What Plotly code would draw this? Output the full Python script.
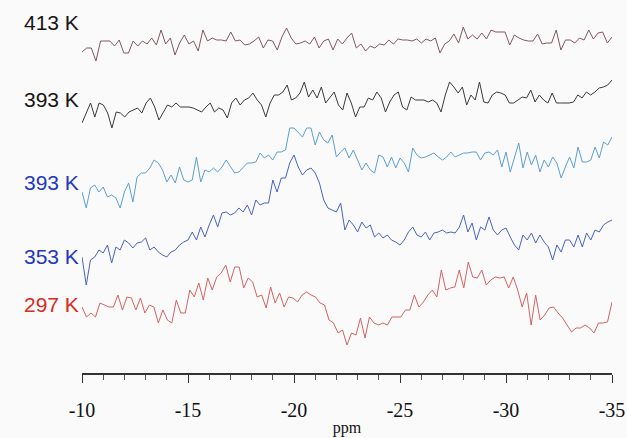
import numpy as np
import plotly.graph_objects as go

# Spectra (intensity, arbitrary units), ppm from -10 to -35
s413 = [10,14,14,1,21,21,21,16,22,9,
        9,21,16,21,18,24,17,32,18,24,
        7,19,27,18,21,11,32,21,24,22,
        22,21,30,21,22,17,18,21,25,14,
        22,21,12,25,34,24,18,19,21,18,
        25,14,21,23,12,23,18,24,29,14,
        18,11,16,14,18,17,22,18,23,22,
        22,21,23,19,23,21,24,9,18,21,
        28,19,35,23,27,23,29,23,32,30,
        30,30,17,27,24,22,21,21,28,18,
        19,19,32,12,22,22,19,24,22,32,
        23,29,30,19,25]

s393_black = [12,22,32,18,32,30,22,7,23,22,
              18,23,25,27,22,32,37,28,15,23,
              30,28,32,28,28,28,27,25,23,28,
              32,23,27,25,17,32,37,30,35,37,
              42,35,30,18,32,40,40,43,50,35,
              37,42,53,38,45,37,48,32,37,43,
              30,25,42,32,18,28,28,37,35,43,
              37,23,33,40,43,28,25,38,35,35,
              35,33,35,32,23,40,53,48,42,48,
              30,40,35,53,33,32,40,43,42,40,
              32,32,35,38,37,45,33,40,35,32,
              42,32,32,32,32,33,40,37,43,40,
              43,47,48,50,55]

s393_blue = [18,2,22,25,18,23,13,15,12,2,
             18,27,8,33,37,37,42,50,47,40,
             28,35,27,43,30,28,30,53,28,40,
             38,42,38,43,50,43,37,38,42,47,
             47,48,57,52,55,50,58,58,60,82,
             82,77,73,82,82,65,78,70,67,75,
             53,58,62,52,60,50,40,47,40,37,
             55,53,43,53,42,52,47,38,62,55,
             52,53,55,57,53,50,53,58,53,55,
             57,57,58,58,50,57,58,55,60,43,
             58,38,52,67,42,58,45,55,38,50,
             43,53,47,32,43,53,42,63,48,48,
             50,63,52,68,65,73]

s353 = [33,5,30,33,40,37,45,27,43,40,
        50,47,42,47,48,52,40,43,38,35,
        33,38,40,45,48,50,58,50,63,53,
        65,75,63,77,78,75,77,82,78,85,
        75,90,85,87,87,110,98,112,112,127,
        135,123,115,120,122,117,107,90,82,80,
        78,87,60,70,65,58,68,62,65,53,
        57,52,55,50,48,45,50,58,63,55,
        53,58,50,57,58,60,57,58,57,63,
        75,58,67,50,63,60,73,60,55,60,
        62,53,45,40,55,50,57,47,55,48,
        43,30,45,38,50,50,43,55,43,57,
        50,60,58,65,68,70]

s297 = [38,28,32,28,42,40,38,38,50,35,
        48,47,35,47,32,40,38,22,35,25,
        22,45,32,32,55,48,62,45,67,55,
        68,72,80,63,78,78,57,67,63,48,
        50,37,58,42,52,38,48,47,43,50,
        53,50,48,42,40,25,22,12,15,0,
        12,10,27,7,28,22,20,22,20,28,
        28,28,35,35,50,38,43,50,55,48,
        75,55,57,58,75,57,83,68,67,75,
        60,65,68,67,68,57,68,55,38,52,
        20,50,25,30,37,38,32,27,20,13,
        17,17,20,17,12,22,22,23,43]

labels = ["413 K", "393 K", "393 K", "353 K", "297 K"]
ppm_start, ppm_end = -10, -35
tick_vals = [-10, -15, -20, -25, -30, -35]

series = [s413, s393_black, s393_blue, s353, s297]
offsets = [311, 238, 163, 83, 28]
line_colors = ["#85565f", "#3a3a3a", "#5b9fd6", "#4a62c2", "#d46262"]
label_colors = ["#151515", "#151515", "#2238c0", "#2238c0", "#d82a22"]
label_y = [22, 100, 182, 256, 304]

fig = go.Figure()
for s, off, col in zip(series, offsets, line_colors):
    x = np.linspace(ppm_start, ppm_end, len(s))
    fig.add_trace(go.Scatter(x=x, y=np.array(s) + off, mode="lines",
                             line=dict(color=col, width=1), showlegend=False,
                             hoverinfo="skip"))

for lab, yp, col in zip(labels, label_y, label_colors):
    fig.add_annotation(text=lab, xref="paper", yref="paper",
                       x=-0.002, xanchor="right",
                       y=(373 - yp) / 373, yanchor="middle",
                       showarrow=False,
                       font=dict(family="Liberation Sans, Arial", size=21, color=col))

fig.update_layout(
    width=627, height=438,
    margin=dict(l=82, r=15, t=0, b=65),
    paper_bgcolor="#fafafa", plot_bgcolor="#fafafa",
    xaxis=dict(range=[ppm_start, ppm_end], tickvals=tick_vals,
               ticktext=[str(v) for v in tick_vals],
               showgrid=False, zeroline=False,
               showline=True, linecolor="#333", linewidth=1.6,
               ticks="outside", ticklen=8, tickwidth=1.3, tickcolor="#333",
               minor=dict(dtick=1, ticks="outside", ticklen=5, tickwidth=1, tickcolor="#555"),
               ticklabelstandoff=10,
               tickfont=dict(family="Liberation Serif, Times New Roman", size=20, color="#111"),
               title=dict(text="ppm", font=dict(family="Liberation Serif, Times New Roman", size=16, color="#111"),
                          standoff=2)),
    yaxis=dict(range=[0, 373], visible=False, fixedrange=True),
)

fig.write_html("out.html")
